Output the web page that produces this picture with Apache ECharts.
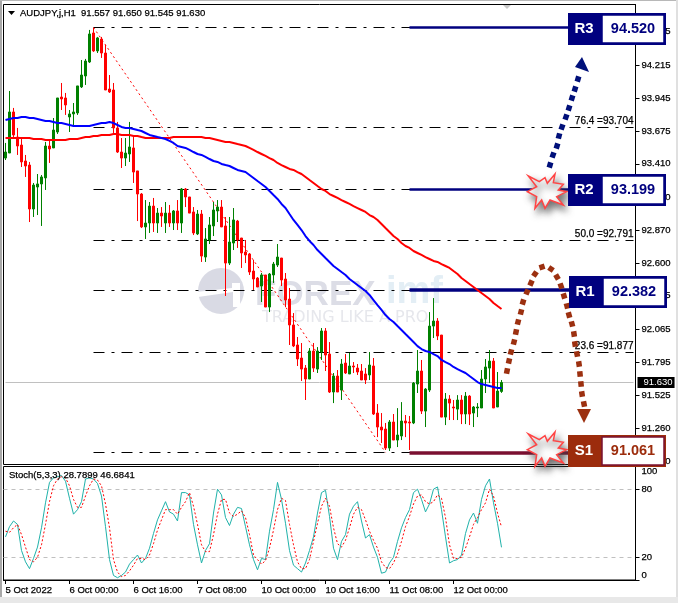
<!DOCTYPE html>
<html><head><meta charset="utf-8">
<script src="https://cdn.jsdelivr.net/npm/echarts@6/dist/echarts.min.js"></script>
<style>html,body{margin:0;padding:0;background:#fff}#c{width:678px;height:603px}</style>
</head><body><div id="c"></div>
<script>
const tickLabels = ['5 Oct 2022','6 Oct 00:00','6 Oct 16:00','7 Oct 08:00','10 Oct 00:00','10 Oct 16:00','11 Oct 08:00','12 Oct 00:00'];
const priceTicks = [94.485,94.215,93.945,93.675,93.410,93.140,92.870,92.600,92.335,92.065,91.795,91.525,91.260,90.990];
const stochTicks = [0,20,80,100];
const opens = [93.457,93.498,93.832,93.628,93.563,93.433,93.400,93.042,93.221,93.246,93.295,93.555,93.539,93.669,93.954,93.946,93.791,93.816,93.824,94.036,94.125,94.239,94.475,94.329,94.426,94.312,94.019,94.011,93.702,93.506,93.457,93.490,93.539,93.352,93.164,92.896,92.928,93.066,92.928,93.009,92.928,93.009,92.928,93.026,92.928,93.205,93.140,93.018,92.839,93.001,92.651,92.790,92.904,93.026,93.058,92.904,92.602,92.765,92.944,92.806,92.692,92.676,92.537,92.480,92.415,92.505,92.244,92.505,92.586,92.643,92.472,92.309,92.098,91.935,91.829,91.747,91.658,91.886,91.739,91.878,92.049,91.861,91.552,91.682,91.568,91.788,91.699,91.764,91.747,91.723,91.699,91.691,91.764,91.381,91.267,91.251,91.096,91.308,91.161,91.194,91.316,91.308,91.300,91.617,91.723,91.397,91.568,92.089,92.130,92.016,91.348,91.495,91.430,91.413,91.487,91.373,91.519,91.381,91.422,91.422,91.658,91.747,91.804,91.430,91.557];
const closes = [93.506,93.832,93.645,93.555,93.425,93.392,93.042,93.237,93.246,93.303,93.555,93.531,93.685,93.946,93.938,93.889,93.816,93.832,94.044,94.133,94.247,94.467,94.329,94.435,94.312,94.011,93.995,93.702,93.506,93.457,93.498,93.547,93.343,93.164,92.896,92.928,93.066,92.928,93.009,92.985,93.009,92.928,93.026,92.928,93.205,93.140,93.009,92.847,93.001,92.659,92.798,92.912,93.034,93.058,92.896,92.602,92.773,92.953,92.790,92.684,92.668,92.529,92.472,92.407,92.505,92.244,92.513,92.594,92.651,92.464,92.301,92.098,91.927,91.821,91.739,91.658,91.886,91.747,91.886,92.049,91.853,91.552,91.682,91.552,91.780,91.707,91.764,91.756,91.715,91.650,91.650,91.772,91.373,91.267,91.243,91.096,91.308,91.161,91.202,91.316,91.300,91.300,91.625,91.723,91.397,91.576,92.089,92.130,92.008,91.348,91.495,91.462,91.422,91.487,91.373,91.519,91.373,91.430,91.430,91.658,91.756,91.804,91.422,91.560,91.630];
const lows = [93.441,93.498,93.620,93.482,93.384,93.303,92.936,92.977,92.993,92.904,93.197,93.417,93.539,93.653,93.848,93.808,93.669,93.726,93.808,94.027,94.052,94.231,94.321,94.312,94.272,94.011,93.987,93.661,93.498,93.376,93.392,93.425,93.254,92.944,92.887,92.798,92.847,92.855,92.847,92.896,92.847,92.896,92.871,92.871,92.847,93.058,93.009,92.830,92.830,92.611,92.611,92.757,92.822,92.936,92.896,92.334,92.586,92.708,92.725,92.562,92.602,92.505,92.383,92.407,92.285,92.244,92.203,92.440,92.570,92.415,92.244,91.935,91.918,91.764,91.642,91.487,91.658,91.715,91.707,91.813,91.723,91.544,91.462,91.552,91.487,91.699,91.699,91.707,91.691,91.650,91.617,91.650,91.365,91.185,91.137,91.080,91.072,91.161,91.104,91.161,91.185,91.080,91.291,91.544,91.373,91.267,91.552,91.992,91.975,91.348,91.283,91.324,91.324,91.324,91.291,91.291,91.283,91.267,91.348,91.422,91.544,91.625,91.422,91.430,91.545];
const highs = [93.580,94.003,93.865,93.702,93.628,93.482,93.425,93.254,93.327,93.319,93.588,93.604,93.783,93.946,94.068,93.987,93.848,93.905,94.044,94.255,94.264,94.500,94.516,94.443,94.443,94.378,94.133,94.068,93.751,93.620,93.620,93.751,93.628,93.352,93.172,93.115,93.099,93.132,93.050,93.058,93.099,93.075,93.034,93.115,93.213,93.213,93.140,93.058,93.034,93.034,92.887,92.977,93.099,93.115,93.115,92.977,92.977,93.050,92.953,92.806,92.790,92.684,92.627,92.488,92.521,92.505,92.521,92.611,92.757,92.643,92.521,92.399,92.195,92.000,91.951,91.772,91.910,91.951,91.918,92.073,92.073,91.959,91.707,91.731,91.821,91.861,91.870,91.796,91.780,91.780,91.747,91.878,91.829,91.454,91.381,91.300,91.324,91.373,91.421,91.470,91.365,91.357,91.633,91.894,91.813,91.584,92.203,92.317,92.154,92.016,91.544,91.527,91.487,91.527,91.527,91.552,91.527,91.438,91.462,91.731,91.821,91.894,91.829,91.715,91.650];
const blueMA = [93.767,93.775,93.783,93.783,93.791,93.791,93.783,93.783,93.775,93.767,93.759,93.759,93.751,93.742,93.742,93.734,93.726,93.718,93.718,93.718,93.718,93.718,93.726,93.734,93.742,93.742,93.751,93.742,93.726,93.710,93.702,93.702,93.694,93.685,93.677,93.661,93.645,93.637,93.628,93.620,93.612,93.596,93.580,93.555,93.547,93.539,93.523,93.506,93.490,93.482,93.466,93.449,93.433,93.425,93.409,93.400,93.392,93.376,93.360,93.352,93.343,93.319,93.295,93.270,93.246,93.221,93.189,93.156,93.124,93.083,93.050,93.001,92.953,92.912,92.871,92.822,92.782,92.749,92.708,92.676,92.643,92.611,92.578,92.554,92.529,92.505,92.472,92.448,92.423,92.399,92.374,92.342,92.301,92.260,92.220,92.179,92.146,92.122,92.089,92.057,92.024,91.992,91.959,91.926,91.902,91.886,91.878,91.861,91.845,91.813,91.796,91.780,91.756,91.739,91.723,91.707,91.682,91.658,91.633,91.617,91.609,91.601,91.593,91.585,91.585];
const redMA = [93.620,93.620,93.620,93.620,93.620,93.620,93.620,93.612,93.612,93.612,93.604,93.604,93.604,93.604,93.604,93.604,93.612,93.612,93.612,93.620,93.628,93.628,93.637,93.637,93.645,93.645,93.645,93.653,93.653,93.645,93.645,93.645,93.637,93.637,93.628,93.620,93.620,93.620,93.620,93.620,93.620,93.620,93.628,93.628,93.628,93.628,93.628,93.628,93.628,93.628,93.620,93.620,93.612,93.604,93.596,93.588,93.588,93.580,93.571,93.563,93.555,93.539,93.523,93.506,93.490,93.474,93.457,93.441,93.417,93.400,93.384,93.368,93.360,93.343,93.327,93.303,93.278,93.254,93.229,93.205,93.189,93.164,93.148,93.132,93.115,93.099,93.083,93.066,93.050,93.034,93.018,92.993,92.977,92.953,92.920,92.887,92.855,92.822,92.798,92.765,92.741,92.725,92.700,92.684,92.668,92.651,92.635,92.619,92.611,92.594,92.578,92.562,92.537,92.513,92.480,92.456,92.431,92.407,92.383,92.358,92.334,92.309,92.277,92.252,92.228];
const stochMain = [38,47,52,49,26,16,10,19,29,46,68,86,90,91,92,87,72,58,62,69,89,90,89,85,74,47,18,4,2,4,7,14,18,22,15,19,28,41,53,61,69,60,58,52,77,77,75,49,31,15,26,32,59,80,75,55,48,58,64,63,47,31,18,9,19,18,43,62,86,71,50,26,13,10,7,15,26,38,59,77,79,56,28,18,34,40,58,65,69,52,37,40,29,20,6,7,15,20,34,46,55,62,77,80,71,60,67,80,82,62,38,15,17,18,22,41,53,59,50,71,83,89,68,50,28.7899];
const stochSignal = [43,42,46,49,40,29,18,16,20,31,49,69,83,89,91,90,83,71,64,64,74,83,89,88,83,67,46,18,7,3,4,8,13,19,19,18,22,32,44,53,62,62,62,58,64,69,77,65,49,31,25,25,40,58,71,71,59,56,58,61,55,40,22,18,14,17,28,44,62,72,70,49,31,16,10,10,18,34,50,65,72,65,46,32,29,35,46,58,64,62,53,43,35,28,16,11,10,15,23,34,47,56,67,74,75,69,67,69,75,72,55,31,19,19,20,28,38,49,55,62,68,80,74,59,46.6841];
const fibLevels = [94.520,93.704,93.199,92.791,92.382,91.877,91.061];
const fibLabels = {93.704:'76.4 =93.704',92.791:'50.0 =92.791',91.877:'23.6 =91.877'};
const levelNames = ['R3','R2','R1','S1'];
const levelValues = [94.520,93.199,92.382,91.061];
const currentPrice = 91.630;
const fibStartBar = 22, fibEndBar = 95, levelStartBar = 101, levelEndBar = 141;
const header = 'AUDJPY,j,H1  91.557 91.650 91.545 91.630';
const stochHeader = 'Stoch(5,3,3) 28.7899 46.6841';

const N = 158;
const categories = Array.from({length:N},(_,i)=> (i%16===0 && tickLabels[i/16]) ? tickLabels[i/16] : 'b'+i);
const isTick = i => i%16===0 && i/16 < tickLabels.length;
const candle = opens.map((o,i)=>[o,closes[i],lows[i],highs[i]]);
const FONT = '"Liberation Sans", Arial, sans-serif';
const FS = 9.5;
const BOLD = '"Liberation Sans", Arial, sans-serif';
const heavy = {textBorderColor:'#000',textBorderWidth:0.25};

const dash = [11,7,3,7];
const fibLines = fibLevels.map(v=>[
  {coord:[fibStartBar,v], lineStyle:{color:'#000',width:1,type:dash},
   label:{show:!!fibLabels[v],formatter:fibLabels[v]||'',position:'insideEndTop',color:'#000',fontSize:FS+0.5,fontFamily:FONT,distance:[0,1],...heavy}},
  {coord:[N-1,v]}
]);
const levelColors = {R3:'#00007f',R2:'#00007f',R1:'#00007f',S1:'#7a0f30'};
const levelWidths = {R3:2.5,R2:2.5,R1:3.5,S1:3.5};
const levelLines = levelNames.map((n,k)=>[
  {coord:[levelStartBar,levelValues[k]],lineStyle:{color:levelColors[n],width:levelWidths[n],type:'solid',opacity:1},label:{show:false}},
  {coord:[levelEndBar,levelValues[k]]}
]);
const diag = [[{coord:[fibStartBar,fibLevels[0]],lineStyle:{color:'#ff0000',width:1,type:[2,3]},label:{show:false}},{coord:[fibEndBar,fibLevels[6]]}]];
const priceLine = [[{coord:[0,currentPrice],lineStyle:{color:'#c0c0c0',width:1,type:'solid'},label:{show:false}},{coord:[N-1,currentPrice]}]];

const burst = [[85,528],[118,545],[135,533],[142,550],[165,522],[160,548],[190,553],[175,570],[200,575],[170,590],[190,615],[150,600],[135,625],[125,600],[105,625],[110,590],[82,575],[110,560]].map(p=>[500+p[0]/3,p[1]/3]);
const burstAt = dy => ({type:'polygon',z:60,shape:{points:burst.map(p=>[p[0],p[1]+dy])},style:{fill:'#fff',stroke:'#ff4444',lineWidth:1.5,shadowBlur:7,shadowColor:'rgba(70,70,70,.75)',shadowOffsetX:3,shadowOffsetY:5}});
const brownDots = [[507,371],[509,361],[511,352],[514,342],[516,332],[518,322],[521,312],[523,302],[527,292],[531,283],[535,274],[542,267],[551,269],[557,277],[561,286],[564,296],[567,306],[569,315],[572,324],[574,334],[575,344],[577,354],[579,364],[580,374],[581,384],[582,394],[584,404]];
const navyDots = [[550,165],[553,155],[557,146],[559,136],[562,127],[566,117],[569,108],[572,98],[575,89],[578,79]];
const dotsOf = (pts,col,s)=>pts.map((p,i)=>{
  const a=pts[Math.max(0,i-1)],b=pts[Math.min(pts.length-1,i+1)];
  let dx=b[0]-a[0],dy=b[1]-a[1];const l=Math.hypot(dx,dy);dx/=l;dy/=l;
  const h=s/2,c=[[ h, h],[ h,-h],[-h,-h],[-h, h]].map(q=>[p[0]+q[0]*dx-q[1]*dy,p[1]+q[0]*dy+q[1]*dx]);
  return {type:'polygon',z:55,shape:{points:c},style:{fill:col}};
});
const box = (name,val,x,y,dark,border,txt)=>[
  {type:'rect',z:70,shape:{x:x,y:y,width:98,height:32},style:{fill:dark}},
  {type:'rect',z:71,shape:{x:x+34,y:y+2,width:62,height:28},style:{fill:'#fff',stroke:border,lineWidth:1.5}},
  {type:'text',z:72,style:{x:x+16,y:y+16,text:name,fill:'#fff',font:'bold 15px '+BOLD,textAlign:'center',textVerticalAlign:'middle'}},
  {type:'text',z:72,style:{x:x+65,y:y+16,text:val,fill:txt,font:'bold 14.5px '+BOLD,textAlign:'center',textVerticalAlign:'middle'}}
];

const graphic = [
  {type:'rect',z:100,shape:{x:0,y:0,width:2,height:603},style:{fill:'#a8a8a8'}},
  {type:'rect',z:100,shape:{x:0,y:0,width:678,height:1},style:{fill:'#b8b8b8'}},
  {type:'rect',z:100,shape:{x:676,y:0,width:2,height:603},style:{fill:'#e0e0e0'}},
  {type:'rect',z:100,shape:{x:0,y:597,width:678,height:6},style:{fill:'#e8e8e8'}},
  // watermark
  {type:'circle',z:0,shape:{cx:221,cy:291,r:23},style:{fill:'#d9dae4'}},
  {type:'polygon',z:0,shape:{points:[[196,292],[232,288],[232,283],[240,283],[240,307],[233,307],[233,292],[198,297]]},style:{fill:'#fff'}},
  {type:'text',z:0,style:{x:255,y:295,text:'FOREX',fill:'#dcdde6',font:'bold 35px '+BOLD,textVerticalAlign:'middle'}},
  {type:'text',z:0,style:{x:386,y:293,text:'imf',fill:'#e3eef5',font:'bold 38px '+BOLD,textVerticalAlign:'middle'}},
  {type:'text',z:0,style:{x:262,y:318,text:'TRADING LIKE A PRO',fill:'#e6e7ec',font:'16px "DejaVu Sans", sans-serif',textVerticalAlign:'middle'}},
  // header
  {type:'polygon',z:50,shape:{points:[[8,11],[15,11],[11.5,15]]},style:{fill:'#000'}},
  {type:'polygon',z:50,shape:{points:[[503,5],[511,5],[507,9]]},style:{fill:'#c8c8c8'}},
  {type:'text',z:50,style:{x:20,y:13,text:header,fill:'#000',stroke:'#000',lineWidth:0.25,font:FS+'px '+FONT,textVerticalAlign:'middle'}},
  {type:'text',z:50,style:{x:9,y:475,text:stochHeader,fill:'#000',stroke:'#000',lineWidth:0.25,font:FS+'px '+FONT,textVerticalAlign:'middle'}},
  // arrows
  ...dotsOf(navyDots,'#00107a',5.5),
  {type:'polygon',z:55,shape:{points:[[582,57],[575,67],[589,72]]},style:{fill:'#00107a'}},
  ...dotsOf(brownDots,'#9c3010',5.5),
  {type:'polygon',z:55,shape:{points:[[577,409],[591,409],[584,423]]},style:{fill:'#9c3010'}},
  burstAt(0), burstAt(258),
  ...box('R3','94.520',568,13,'#00007f','#00007f','#00007f'),
  ...box('R2','93.199',568,174,'#00007f','#00007f','#00007f'),
  ...box('R1','92.382',569,276,'#00007f','#00007f','#00007f'),
  ...box('S1','91.061',568,435,'#9c2c0c','#7a1030','#9c2c0c')
];

const option = {
  animation:false,
  backgroundColor:'#fff',
  graphic:graphic,
  grid:[
    {left:3.5,top:4.5,width:632,height:460,show:true,borderColor:'#000',borderWidth:1,backgroundColor:'transparent',containLabel:false},
    {left:3.5,top:466.5,width:632,height:113.5,show:true,borderColor:'#000',borderWidth:1,backgroundColor:'transparent',containLabel:false}
  ],
  xAxis:[
    {type:'category',gridIndex:0,data:categories,show:false,boundaryGap:true},
    {type:'category',gridIndex:1,data:categories,boundaryGap:true,
     axisLine:{show:true,lineStyle:{color:'#000'}},
     axisTick:{show:true,length:4,alignWithLabel:true,interval:i=>isTick(i),lineStyle:{color:'#000'}},
     axisLabel:{show:true,interval:i=>isTick(i),align:'left',margin:5,color:'#000',fontSize:FS,fontFamily:FONT,hideOverlap:false,...heavy}}
  ],
  yAxis:[
    {type:'value',gridIndex:0,position:'right',min:90.962,max:94.707,scale:true,splitLine:{show:false},
     axisLine:{show:true,lineStyle:{color:'#000'}},
     axisTick:{show:true,length:4,customValues:priceTicks,lineStyle:{color:'#000'}},
     axisLabel:{show:true,customValues:priceTicks,margin:6,color:'#000',fontSize:FS,fontFamily:FONT,padding:[1.5,0,0,0],formatter:v=>v.toFixed(3),...heavy}},
    {type:'value',gridIndex:1,position:'right',min:0,max:100,splitLine:{show:false},
     axisLine:{show:true,lineStyle:{color:'#000'}},
     axisTick:{show:true,length:4,customValues:stochTicks,lineStyle:{color:'#000'}},
     axisLabel:{show:true,customValues:stochTicks,margin:6,color:'#000',fontSize:FS,fontFamily:FONT,verticalAlignMinLabel:'bottom',verticalAlignMaxLabel:'top',...heavy}}
  ],
  series:[
    {type:'candlestick',name:'AUDJPY',xAxisIndex:0,yAxisIndex:0,data:candle,barWidth:3,z:3,
     itemStyle:{color:'#008000',color0:'#ff0000',borderColor:'#008000',borderColor0:'#ff0000',borderWidth:1},
     markLine:{silent:true,symbol:'none',z:2,animation:false,precision:3,data:[...priceLine,...fibLines,...diag]}},
    {type:'line',name:'MA long',xAxisIndex:0,yAxisIndex:0,data:redMA,symbol:'none',z:5,lineStyle:{color:'#ff0000',width:2}},
    {type:'line',name:'MA short',xAxisIndex:0,yAxisIndex:0,data:blueMA,symbol:'none',z:6,lineStyle:{color:'#0000ff',width:2}},
    {type:'line',name:'levels',xAxisIndex:0,yAxisIndex:0,data:[],symbol:'none',z:7,
     markLine:{silent:true,symbol:'none',animation:false,data:levelLines}},
    {type:'line',name:'current',xAxisIndex:0,yAxisIndex:0,data:[],symbol:'none',z:20,clip:false,
     markLine:{silent:true,symbol:'none',animation:false,data:[[
       {coord:[N-2,currentPrice],lineStyle:{color:'#c0c0c0',width:0},
        label:{show:true,position:'end',formatter:currentPrice.toFixed(3),color:'#fff',backgroundColor:'#000',padding:[1,2,0,6],fontSize:FS,fontFamily:FONT,distance:4}},
       {coord:[N-1,currentPrice]}]]}},
    {type:'line',name:'%K',xAxisIndex:1,yAxisIndex:1,data:stochMain,symbol:'none',z:5,lineStyle:{color:'#20b2aa',width:1},
     markLine:{silent:true,symbol:'none',animation:false,lineStyle:{color:'#c0c0c0',width:1,type:[4,4]},label:{show:false},data:[{yAxis:80},{yAxis:20}]}},
    {type:'line',name:'%D',xAxisIndex:1,yAxisIndex:1,data:stochSignal,symbol:'none',z:6,lineStyle:{color:'#ff0000',width:1,type:[2,2]}}
  ]
};
const chart = echarts.init(document.getElementById('c'),null,{renderer:'canvas',width:678,height:603});
chart.setOption(option);
</script></body></html>
